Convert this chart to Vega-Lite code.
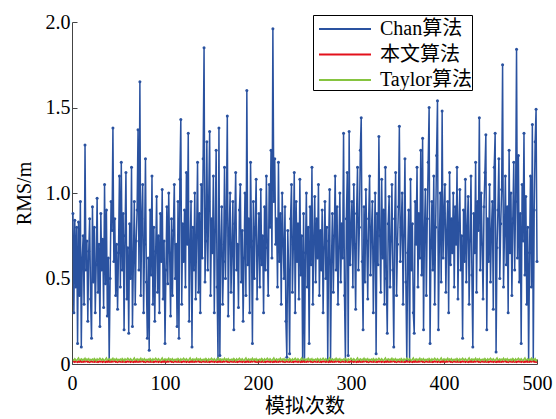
{
"$schema": "https://vega.github.io/schema/vega-lite/v6.json",
"width": 465, "height": 342,
"autosize": "none",
"padding": {"left": 72, "top": 22, "right": 19, "bottom": 55},
"background": "white",
"config": {"view": {"stroke": null}, "font": "Liberation Serif"},
"data": {"values": [
{"i":1,"c":0.88,"r":0.013,"t":0.027},{"i":2,"c":0.30,"r":0.015,"t":0.022},{"i":3,"c":0.84,"r":0.012,"t":0.031},{"i":4,"c":0.45,"r":0.016,"t":0.025},{"i":5,"c":0.80,"r":0.014,"t":0.020},{"i":6,"c":0.12,"r":0.011,"t":0.028},{"i":7,"c":0.83,"r":0.015,"t":0.035},{"i":8,"c":0.40,"r":0.013,"t":0.023},{"i":9,"c":0.95,"r":0.017,"t":0.026},{"i":10,"c":0.10,"r":0.012,"t":0.030},
{"i":11,"c":0.62,"r":0.014,"t":0.021},{"i":12,"c":0.75,"r":0.012,"t":0.028},{"i":13,"c":0.35,"r":0.016,"t":0.025},{"i":14,"c":1.28,"r":0.013,"t":0.033},{"i":15,"c":0.55,"r":0.015,"t":0.022},{"i":16,"c":0.72,"r":0.017,"t":0.029},{"i":17,"c":0.25,"r":0.012,"t":0.024},{"i":18,"c":0.66,"r":0.014,"t":0.031},{"i":19,"c":0.85,"r":0.011,"t":0.019},{"i":20,"c":0.38,"r":0.015,"t":0.027},
{"i":21,"c":0.15,"r":0.016,"t":0.024},{"i":22,"c":0.92,"r":0.013,"t":0.029},{"i":23,"c":0.48,"r":0.014,"t":0.021},{"i":24,"c":0.80,"r":0.012,"t":0.032},{"i":25,"c":0.30,"r":0.017,"t":0.026},{"i":26,"c":0.58,"r":0.013,"t":0.019},{"i":27,"c":0.97,"r":0.015,"t":0.030},{"i":28,"c":0.42,"r":0.011,"t":0.023},{"i":29,"c":0.70,"r":0.014,"t":0.027},{"i":30,"c":0.22,"r":0.016,"t":0.034},
{"i":31,"c":0.88,"r":0.013,"t":0.027},{"i":32,"c":0.55,"r":0.015,"t":0.022},{"i":33,"c":0.73,"r":0.012,"t":0.031},{"i":34,"c":0.33,"r":0.016,"t":0.025},{"i":35,"c":1.05,"r":0.014,"t":0.020},{"i":36,"c":0.47,"r":0.011,"t":0.028},{"i":37,"c":0.90,"r":0.015,"t":0.035},{"i":38,"c":0.28,"r":0.013,"t":0.023},{"i":39,"c":0.62,"r":0.017,"t":0.026},{"i":40,"c":0.02,"r":0.012,"t":0.030},
{"i":41,"c":0.50,"r":0.014,"t":0.021},{"i":42,"c":0.95,"r":0.012,"t":0.028},{"i":43,"c":0.78,"r":0.016,"t":0.025},{"i":44,"c":1.38,"r":0.013,"t":0.033},{"i":45,"c":0.60,"r":0.015,"t":0.022},{"i":46,"c":0.85,"r":0.017,"t":0.029},{"i":47,"c":0.40,"r":0.012,"t":0.024},{"i":48,"c":0.70,"r":0.014,"t":0.031},{"i":49,"c":0.32,"r":0.011,"t":0.019},{"i":50,"c":0.65,"r":0.015,"t":0.027},
{"i":51,"c":1.10,"r":0.016,"t":0.024},{"i":52,"c":0.45,"r":0.013,"t":0.029},{"i":53,"c":1.18,"r":0.014,"t":0.021},{"i":54,"c":0.55,"r":0.012,"t":0.032},{"i":55,"c":0.88,"r":0.017,"t":0.026},{"i":56,"c":0.20,"r":0.013,"t":0.019},{"i":57,"c":0.75,"r":0.015,"t":0.030},{"i":58,"c":1.12,"r":0.011,"t":0.023},{"i":59,"c":0.38,"r":0.014,"t":0.027},{"i":60,"c":0.68,"r":0.016,"t":0.034},
{"i":61,"c":0.18,"r":0.013,"t":0.027},{"i":62,"c":0.82,"r":0.015,"t":0.022},{"i":63,"c":0.50,"r":0.012,"t":0.031},{"i":64,"c":1.15,"r":0.016,"t":0.025},{"i":65,"c":0.22,"r":0.014,"t":0.020},{"i":66,"c":0.60,"r":0.011,"t":0.028},{"i":67,"c":0.95,"r":0.015,"t":0.035},{"i":68,"c":0.35,"r":0.013,"t":0.023},{"i":69,"c":0.72,"r":0.017,"t":0.026},{"i":70,"c":0.90,"r":0.012,"t":0.030},
{"i":71,"c":1.37,"r":0.014,"t":0.021},{"i":72,"c":0.55,"r":0.012,"t":0.028},{"i":73,"c":1.65,"r":0.016,"t":0.025},{"i":74,"c":0.40,"r":0.013,"t":0.033},{"i":75,"c":0.85,"r":0.015,"t":0.022},{"i":76,"c":1.05,"r":0.017,"t":0.029},{"i":77,"c":0.30,"r":0.012,"t":0.024},{"i":78,"c":0.70,"r":0.014,"t":0.031},{"i":79,"c":1.20,"r":0.011,"t":0.019},{"i":80,"c":0.48,"r":0.015,"t":0.027},
{"i":81,"c":0.15,"r":0.016,"t":0.024},{"i":82,"c":0.62,"r":0.013,"t":0.029},{"i":83,"c":0.08,"r":0.014,"t":0.021},{"i":84,"c":0.90,"r":0.012,"t":0.032},{"i":85,"c":0.52,"r":0.017,"t":0.026},{"i":86,"c":1.10,"r":0.013,"t":0.019},{"i":87,"c":0.35,"r":0.015,"t":0.030},{"i":88,"c":0.80,"r":0.011,"t":0.023},{"i":89,"c":0.25,"r":0.014,"t":0.027},{"i":90,"c":0.66,"r":0.016,"t":0.034},
{"i":91,"c":0.98,"r":0.013,"t":0.027},{"i":92,"c":0.42,"r":0.015,"t":0.022},{"i":93,"c":0.75,"r":0.012,"t":0.031},{"i":94,"c":0.30,"r":0.016,"t":0.025},{"i":95,"c":0.88,"r":0.014,"t":0.020},{"i":96,"c":0.60,"r":0.011,"t":0.028},{"i":97,"c":1.02,"r":0.015,"t":0.035},{"i":98,"c":0.38,"r":0.013,"t":0.023},{"i":99,"c":0.72,"r":0.017,"t":0.026},{"i":100,"c":0.12,"r":0.012,"t":0.030},
{"i":101,"c":0.55,"r":0.014,"t":0.021},{"i":102,"c":0.92,"r":0.012,"t":0.028},{"i":103,"c":0.47,"r":0.016,"t":0.025},{"i":104,"c":1.00,"r":0.013,"t":0.033},{"i":105,"c":0.65,"r":0.015,"t":0.022},{"i":106,"c":0.28,"r":0.017,"t":0.029},{"i":107,"c":0.85,"r":0.012,"t":0.024},{"i":108,"c":0.40,"r":0.014,"t":0.031},{"i":109,"c":0.78,"r":0.011,"t":0.019},{"i":110,"c":1.05,"r":0.015,"t":0.027},
{"i":111,"c":0.50,"r":0.016,"t":0.024},{"i":112,"c":0.70,"r":0.013,"t":0.029},{"i":113,"c":0.22,"r":0.014,"t":0.021},{"i":114,"c":0.95,"r":0.012,"t":0.032},{"i":115,"c":0.15,"r":0.017,"t":0.026},{"i":116,"c":1.08,"r":0.013,"t":0.019},{"i":117,"c":1.43,"r":0.015,"t":0.030},{"i":118,"c":0.35,"r":0.011,"t":0.023},{"i":119,"c":0.82,"r":0.014,"t":0.027},{"i":120,"c":0.60,"r":0.016,"t":0.034},
{"i":121,"c":0.90,"r":0.013,"t":0.027},{"i":122,"c":0.45,"r":0.015,"t":0.022},{"i":123,"c":1.12,"r":0.012,"t":0.031},{"i":124,"c":0.70,"r":0.016,"t":0.025},{"i":125,"c":1.35,"r":0.014,"t":0.020},{"i":126,"c":0.25,"r":0.011,"t":0.028},{"i":127,"c":0.68,"r":0.015,"t":0.035},{"i":128,"c":0.95,"r":0.013,"t":0.023},{"i":129,"c":0.10,"r":0.017,"t":0.026},{"i":130,"c":0.80,"r":0.012,"t":0.030},
{"i":131,"c":0.55,"r":0.014,"t":0.021},{"i":132,"c":1.00,"r":0.012,"t":0.028},{"i":133,"c":0.38,"r":0.016,"t":0.025},{"i":134,"c":0.75,"r":0.013,"t":0.033},{"i":135,"c":1.18,"r":0.015,"t":0.022},{"i":136,"c":0.42,"r":0.017,"t":0.029},{"i":137,"c":0.88,"r":0.012,"t":0.024},{"i":138,"c":0.30,"r":0.014,"t":0.031},{"i":139,"c":1.05,"r":0.011,"t":0.019},{"i":140,"c":0.62,"r":0.015,"t":0.027},
{"i":141,"c":1.20,"r":0.016,"t":0.024},{"i":142,"c":1.85,"r":0.013,"t":0.029},{"i":143,"c":0.48,"r":0.014,"t":0.021},{"i":144,"c":0.72,"r":0.012,"t":0.032},{"i":145,"c":1.30,"r":0.017,"t":0.026},{"i":146,"c":0.55,"r":0.013,"t":0.019},{"i":147,"c":0.95,"r":0.015,"t":0.030},{"i":148,"c":1.36,"r":0.011,"t":0.023},{"i":149,"c":0.40,"r":0.014,"t":0.027},{"i":150,"c":0.85,"r":0.016,"t":0.034},
{"i":151,"c":0.65,"r":0.013,"t":0.027},{"i":152,"c":1.10,"r":0.015,"t":0.022},{"i":153,"c":0.30,"r":0.012,"t":0.031},{"i":154,"c":0.78,"r":0.016,"t":0.025},{"i":155,"c":1.25,"r":0.014,"t":0.020},{"i":156,"c":0.45,"r":0.011,"t":0.028},{"i":157,"c":0.03,"r":0.015,"t":0.035},{"i":158,"c":1.38,"r":0.013,"t":0.023},{"i":159,"c":0.05,"r":0.017,"t":0.026},{"i":160,"c":0.70,"r":0.012,"t":0.030},
{"i":161,"c":0.92,"r":0.014,"t":0.021},{"i":162,"c":0.35,"r":0.012,"t":0.028},{"i":163,"c":0.60,"r":0.016,"t":0.025},{"i":164,"c":1.15,"r":0.013,"t":0.033},{"i":165,"c":0.50,"r":0.015,"t":0.022},{"i":166,"c":0.88,"r":0.017,"t":0.029},{"i":167,"c":1.45,"r":0.012,"t":0.024},{"i":168,"c":0.28,"r":0.014,"t":0.031},{"i":169,"c":0.75,"r":0.011,"t":0.019},{"i":170,"c":1.00,"r":0.015,"t":0.027},
{"i":171,"c":0.42,"r":0.016,"t":0.024},{"i":172,"c":0.68,"r":0.013,"t":0.029},{"i":173,"c":0.95,"r":0.014,"t":0.021},{"i":174,"c":0.20,"r":0.012,"t":0.032},{"i":175,"c":0.82,"r":0.017,"t":0.026},{"i":176,"c":1.12,"r":0.013,"t":0.019},{"i":177,"c":0.55,"r":0.015,"t":0.030},{"i":178,"c":0.70,"r":0.011,"t":0.023},{"i":179,"c":0.33,"r":0.014,"t":0.027},{"i":180,"c":0.90,"r":0.016,"t":0.034},
{"i":181,"c":1.05,"r":0.013,"t":0.027},{"i":182,"c":0.48,"r":0.015,"t":0.022},{"i":183,"c":0.78,"r":0.012,"t":0.031},{"i":184,"c":0.25,"r":0.016,"t":0.025},{"i":185,"c":0.62,"r":0.014,"t":0.020},{"i":186,"c":1.00,"r":0.011,"t":0.028},{"i":187,"c":0.40,"r":0.015,"t":0.035},{"i":188,"c":1.60,"r":0.013,"t":0.023},{"i":189,"c":0.58,"r":0.017,"t":0.026},{"i":190,"c":0.85,"r":0.012,"t":0.030},
{"i":191,"c":0.30,"r":0.014,"t":0.021},{"i":192,"c":1.18,"r":0.012,"t":0.028},{"i":193,"c":0.72,"r":0.016,"t":0.025},{"i":194,"c":0.12,"r":0.013,"t":0.033},{"i":195,"c":0.95,"r":0.015,"t":0.022},{"i":196,"c":0.50,"r":0.017,"t":0.029},{"i":197,"c":0.80,"r":0.012,"t":0.024},{"i":198,"c":1.08,"r":0.014,"t":0.031},{"i":199,"c":0.38,"r":0.011,"t":0.019},{"i":200,"c":0.65,"r":0.015,"t":0.027},
{"i":201,"c":0.88,"r":0.016,"t":0.024},{"i":202,"c":0.45,"r":0.013,"t":0.029},{"i":203,"c":1.02,"r":0.014,"t":0.021},{"i":204,"c":0.58,"r":0.012,"t":0.032},{"i":205,"c":0.75,"r":0.017,"t":0.026},{"i":206,"c":0.30,"r":0.013,"t":0.019},{"i":207,"c":0.92,"r":0.015,"t":0.030},{"i":208,"c":0.55,"r":0.011,"t":0.023},{"i":209,"c":1.10,"r":0.014,"t":0.027},{"i":210,"c":0.68,"r":0.016,"t":0.034},
{"i":211,"c":0.40,"r":0.013,"t":0.027},{"i":212,"c":1.05,"r":0.015,"t":0.022},{"i":213,"c":0.80,"r":0.012,"t":0.031},{"i":214,"c":1.25,"r":0.016,"t":0.025},{"i":215,"c":0.62,"r":0.014,"t":0.020},{"i":216,"c":1.96,"r":0.011,"t":0.028},{"i":217,"c":0.95,"r":0.015,"t":0.035},{"i":218,"c":1.20,"r":0.013,"t":0.023},{"i":219,"c":0.70,"r":0.017,"t":0.026},{"i":220,"c":0.85,"r":0.012,"t":0.030},
{"i":221,"c":0.45,"r":0.014,"t":0.021},{"i":222,"c":1.18,"r":0.012,"t":0.028},{"i":223,"c":0.60,"r":0.016,"t":0.025},{"i":224,"c":0.88,"r":0.013,"t":0.033},{"i":225,"c":0.35,"r":0.015,"t":0.022},{"i":226,"c":1.00,"r":0.017,"t":0.029},{"i":227,"c":0.72,"r":0.012,"t":0.024},{"i":228,"c":0.50,"r":0.014,"t":0.031},{"i":229,"c":0.92,"r":0.011,"t":0.019},{"i":230,"c":0.25,"r":0.015,"t":0.027},
{"i":231,"c":0.04,"r":0.016,"t":0.024},{"i":232,"c":0.78,"r":0.013,"t":0.029},{"i":233,"c":0.55,"r":0.014,"t":0.021},{"i":234,"c":0.06,"r":0.012,"t":0.032},{"i":235,"c":0.85,"r":0.017,"t":0.026},{"i":236,"c":1.05,"r":0.013,"t":0.019},{"i":237,"c":0.42,"r":0.015,"t":0.030},{"i":238,"c":0.70,"r":0.011,"t":0.023},{"i":239,"c":1.12,"r":0.014,"t":0.027},{"i":240,"c":0.30,"r":0.016,"t":0.034},
{"i":241,"c":0.95,"r":0.013,"t":0.027},{"i":242,"c":0.60,"r":0.015,"t":0.022},{"i":243,"c":0.82,"r":0.012,"t":0.031},{"i":244,"c":0.38,"r":0.016,"t":0.025},{"i":245,"c":1.08,"r":0.014,"t":0.020},{"i":246,"c":0.52,"r":0.011,"t":0.028},{"i":247,"c":0.75,"r":0.015,"t":0.035},{"i":248,"c":0.02,"r":0.013,"t":0.023},{"i":249,"c":0.88,"r":0.017,"t":0.026},{"i":250,"c":0.02,"r":0.012,"t":0.030},
{"i":251,"c":0.65,"r":0.014,"t":0.021},{"i":252,"c":1.00,"r":0.012,"t":0.028},{"i":253,"c":0.45,"r":0.016,"t":0.025},{"i":254,"c":0.80,"r":0.013,"t":0.033},{"i":255,"c":0.12,"r":0.015,"t":0.022},{"i":256,"c":0.92,"r":0.017,"t":0.029},{"i":257,"c":0.58,"r":0.012,"t":0.024},{"i":258,"c":1.15,"r":0.014,"t":0.031},{"i":259,"c":0.35,"r":0.011,"t":0.019},{"i":260,"c":0.72,"r":0.015,"t":0.027},
{"i":261,"c":0.98,"r":0.016,"t":0.024},{"i":262,"c":0.48,"r":0.013,"t":0.029},{"i":263,"c":0.85,"r":0.014,"t":0.021},{"i":264,"c":0.62,"r":0.012,"t":0.032},{"i":265,"c":1.05,"r":0.017,"t":0.026},{"i":266,"c":0.40,"r":0.013,"t":0.019},{"i":267,"c":0.78,"r":0.015,"t":0.030},{"i":268,"c":0.55,"r":0.011,"t":0.023},{"i":269,"c":0.90,"r":0.014,"t":0.027},{"i":270,"c":0.30,"r":0.016,"t":0.034},
{"i":271,"c":0.68,"r":0.013,"t":0.027},{"i":272,"c":0.95,"r":0.015,"t":0.022},{"i":273,"c":0.50,"r":0.012,"t":0.031},{"i":274,"c":0.80,"r":0.016,"t":0.025},{"i":275,"c":0.02,"r":0.014,"t":0.020},{"i":276,"c":0.72,"r":0.011,"t":0.028},{"i":277,"c":1.02,"r":0.015,"t":0.035},{"i":278,"c":0.02,"r":0.013,"t":0.023},{"i":279,"c":0.60,"r":0.017,"t":0.026},{"i":280,"c":0.88,"r":0.012,"t":0.030},
{"i":281,"c":0.42,"r":0.014,"t":0.021},{"i":282,"c":0.75,"r":0.012,"t":0.028},{"i":283,"c":1.10,"r":0.016,"t":0.025},{"i":284,"c":0.55,"r":0.013,"t":0.033},{"i":285,"c":0.92,"r":0.015,"t":0.022},{"i":286,"c":0.35,"r":0.017,"t":0.029},{"i":287,"c":0.68,"r":0.012,"t":0.024},{"i":288,"c":1.00,"r":0.014,"t":0.031},{"i":289,"c":0.48,"r":0.011,"t":0.019},{"i":290,"c":0.82,"r":0.015,"t":0.027},
{"i":291,"c":0.62,"r":0.016,"t":0.024},{"i":292,"c":1.35,"r":0.013,"t":0.029},{"i":293,"c":0.40,"r":0.014,"t":0.021},{"i":294,"c":0.02,"r":0.012,"t":0.032},{"i":295,"c":0.85,"r":0.017,"t":0.026},{"i":296,"c":1.12,"r":0.013,"t":0.019},{"i":297,"c":0.05,"r":0.015,"t":0.030},{"i":298,"c":1.36,"r":0.011,"t":0.023},{"i":299,"c":0.58,"r":0.014,"t":0.027},{"i":300,"c":0.78,"r":0.016,"t":0.034},
{"i":301,"c":0.95,"r":0.013,"t":0.027},{"i":302,"c":0.45,"r":0.015,"t":0.022},{"i":303,"c":1.05,"r":0.012,"t":0.031},{"i":304,"c":0.70,"r":0.016,"t":0.025},{"i":305,"c":0.32,"r":0.014,"t":0.020},{"i":306,"c":0.88,"r":0.011,"t":0.028},{"i":307,"c":1.15,"r":0.015,"t":0.035},{"i":308,"c":0.55,"r":0.013,"t":0.023},{"i":309,"c":0.80,"r":0.017,"t":0.026},{"i":310,"c":1.25,"r":0.012,"t":0.030},
{"i":311,"c":1.44,"r":0.014,"t":0.021},{"i":312,"c":0.60,"r":0.012,"t":0.028},{"i":313,"c":0.20,"r":0.016,"t":0.025},{"i":314,"c":0.92,"r":0.013,"t":0.033},{"i":315,"c":0.48,"r":0.015,"t":0.022},{"i":316,"c":1.02,"r":0.017,"t":0.029},{"i":317,"c":0.72,"r":0.012,"t":0.024},{"i":318,"c":0.38,"r":0.014,"t":0.031},{"i":319,"c":0.85,"r":0.011,"t":0.019},{"i":320,"c":1.10,"r":0.015,"t":0.027},
{"i":321,"c":0.52,"r":0.016,"t":0.024},{"i":322,"c":0.78,"r":0.013,"t":0.029},{"i":323,"c":0.95,"r":0.014,"t":0.021},{"i":324,"c":0.30,"r":0.012,"t":0.032},{"i":325,"c":0.68,"r":0.017,"t":0.026},{"i":326,"c":1.00,"r":0.013,"t":0.019},{"i":327,"c":0.06,"r":0.015,"t":0.030},{"i":328,"c":0.88,"r":0.011,"t":0.023},{"i":329,"c":0.58,"r":0.014,"t":0.027},{"i":330,"c":1.33,"r":0.016,"t":0.034},
{"i":331,"c":0.75,"r":0.013,"t":0.027},{"i":332,"c":0.42,"r":0.015,"t":0.022},{"i":333,"c":1.08,"r":0.012,"t":0.031},{"i":334,"c":0.62,"r":0.016,"t":0.025},{"i":335,"c":0.90,"r":0.014,"t":0.020},{"i":336,"c":0.35,"r":0.011,"t":0.028},{"i":337,"c":1.15,"r":0.015,"t":0.035},{"i":338,"c":0.50,"r":0.013,"t":0.023},{"i":339,"c":0.18,"r":0.017,"t":0.026},{"i":340,"c":0.82,"r":0.012,"t":0.030},
{"i":341,"c":0.98,"r":0.014,"t":0.021},{"i":342,"c":0.45,"r":0.012,"t":0.028},{"i":343,"c":0.72,"r":0.016,"t":0.025},{"i":344,"c":1.05,"r":0.013,"t":0.033},{"i":345,"c":0.55,"r":0.015,"t":0.022},{"i":346,"c":0.10,"r":0.017,"t":0.029},{"i":347,"c":0.85,"r":0.012,"t":0.024},{"i":348,"c":1.12,"r":0.014,"t":0.031},{"i":349,"c":0.40,"r":0.011,"t":0.019},{"i":350,"c":0.70,"r":0.015,"t":0.027},
{"i":351,"c":0.92,"r":0.016,"t":0.024},{"i":352,"c":1.39,"r":0.013,"t":0.029},{"i":353,"c":0.60,"r":0.014,"t":0.021},{"i":354,"c":0.80,"r":0.012,"t":0.032},{"i":355,"c":1.00,"r":0.017,"t":0.026},{"i":356,"c":0.35,"r":0.013,"t":0.019},{"i":357,"c":0.75,"r":0.015,"t":0.030},{"i":358,"c":1.20,"r":0.011,"t":0.023},{"i":359,"c":0.48,"r":0.014,"t":0.027},{"i":360,"c":0.02,"r":0.016,"t":0.034},
{"i":361,"c":0.65,"r":0.013,"t":0.027},{"i":362,"c":0.90,"r":0.015,"t":0.022},{"i":363,"c":0.02,"r":0.012,"t":0.031},{"i":364,"c":1.08,"r":0.016,"t":0.025},{"i":365,"c":0.55,"r":0.014,"t":0.020},{"i":366,"c":0.82,"r":0.011,"t":0.028},{"i":367,"c":0.30,"r":0.015,"t":0.035},{"i":368,"c":0.18,"r":0.013,"t":0.023},{"i":369,"c":0.95,"r":0.017,"t":0.026},{"i":370,"c":0.70,"r":0.012,"t":0.030},
{"i":371,"c":1.15,"r":0.014,"t":0.021},{"i":372,"c":0.45,"r":0.012,"t":0.028},{"i":373,"c":0.88,"r":0.016,"t":0.025},{"i":374,"c":0.62,"r":0.013,"t":0.033},{"i":375,"c":1.25,"r":0.015,"t":0.022},{"i":376,"c":0.52,"r":0.017,"t":0.029},{"i":377,"c":1.32,"r":0.012,"t":0.024},{"i":378,"c":0.20,"r":0.014,"t":0.031},{"i":379,"c":0.78,"r":0.011,"t":0.019},{"i":380,"c":1.02,"r":0.015,"t":0.027},
{"i":381,"c":0.40,"r":0.016,"t":0.024},{"i":382,"c":0.85,"r":0.013,"t":0.029},{"i":383,"c":1.18,"r":0.014,"t":0.021},{"i":384,"c":1.50,"r":0.012,"t":0.032},{"i":385,"c":0.12,"r":0.017,"t":0.026},{"i":386,"c":0.68,"r":0.013,"t":0.019},{"i":387,"c":0.95,"r":0.015,"t":0.030},{"i":388,"c":0.55,"r":0.011,"t":0.023},{"i":389,"c":1.10,"r":0.014,"t":0.027},{"i":390,"c":0.35,"r":0.016,"t":0.034},
{"i":391,"c":0.80,"r":0.013,"t":0.027},{"i":392,"c":1.22,"r":0.015,"t":0.022},{"i":393,"c":1.54,"r":0.012,"t":0.031},{"i":394,"c":0.20,"r":0.016,"t":0.025},{"i":395,"c":0.72,"r":0.014,"t":0.020},{"i":396,"c":1.00,"r":0.011,"t":0.028},{"i":397,"c":0.48,"r":0.015,"t":0.035},{"i":398,"c":1.48,"r":0.013,"t":0.023},{"i":399,"c":0.62,"r":0.017,"t":0.026},{"i":400,"c":0.88,"r":0.012,"t":0.030},
{"i":401,"c":1.05,"r":0.014,"t":0.021},{"i":402,"c":0.42,"r":0.012,"t":0.028},{"i":403,"c":0.78,"r":0.016,"t":0.025},{"i":404,"c":0.95,"r":0.013,"t":0.033},{"i":405,"c":0.30,"r":0.015,"t":0.022},{"i":406,"c":1.12,"r":0.017,"t":0.029},{"i":407,"c":0.58,"r":0.012,"t":0.024},{"i":408,"c":0.85,"r":0.014,"t":0.031},{"i":409,"c":0.65,"r":0.011,"t":0.019},{"i":410,"c":1.00,"r":0.015,"t":0.027},
{"i":411,"c":0.45,"r":0.016,"t":0.024},{"i":412,"c":0.92,"r":0.013,"t":0.029},{"i":413,"c":0.70,"r":0.014,"t":0.021},{"i":414,"c":1.15,"r":0.012,"t":0.032},{"i":415,"c":0.38,"r":0.017,"t":0.026},{"i":416,"c":0.82,"r":0.013,"t":0.019},{"i":417,"c":1.02,"r":0.015,"t":0.030},{"i":418,"c":0.55,"r":0.011,"t":0.023},{"i":419,"c":0.75,"r":0.014,"t":0.027},{"i":420,"c":0.15,"r":0.016,"t":0.034},
{"i":421,"c":0.90,"r":0.013,"t":0.027},{"i":422,"c":0.60,"r":0.015,"t":0.022},{"i":423,"c":1.08,"r":0.012,"t":0.031},{"i":424,"c":0.48,"r":0.016,"t":0.025},{"i":425,"c":0.80,"r":0.014,"t":0.020},{"i":426,"c":0.98,"r":0.011,"t":0.028},{"i":427,"c":0.35,"r":0.015,"t":0.035},{"i":428,"c":0.72,"r":0.013,"t":0.023},{"i":429,"c":1.10,"r":0.017,"t":0.026},{"i":430,"c":0.52,"r":0.012,"t":0.030},
{"i":431,"c":0.10,"r":0.014,"t":0.021},{"i":432,"c":0.88,"r":0.012,"t":0.028},{"i":433,"c":0.65,"r":0.016,"t":0.025},{"i":434,"c":1.18,"r":0.013,"t":0.033},{"i":435,"c":0.42,"r":0.015,"t":0.022},{"i":436,"c":0.95,"r":0.017,"t":0.029},{"i":437,"c":0.78,"r":0.012,"t":0.024},{"i":438,"c":1.44,"r":0.014,"t":0.031},{"i":439,"c":0.55,"r":0.011,"t":0.019},{"i":440,"c":1.00,"r":0.015,"t":0.027},
{"i":441,"c":0.70,"r":0.016,"t":0.024},{"i":442,"c":0.38,"r":0.013,"t":0.029},{"i":443,"c":0.92,"r":0.014,"t":0.021},{"i":444,"c":1.12,"r":0.012,"t":0.032},{"i":445,"c":1.34,"r":0.017,"t":0.026},{"i":446,"c":0.20,"r":0.013,"t":0.019},{"i":447,"c":0.85,"r":0.015,"t":0.030},{"i":448,"c":0.60,"r":0.011,"t":0.023},{"i":449,"c":1.05,"r":0.014,"t":0.027},{"i":450,"c":0.48,"r":0.016,"t":0.034},
{"i":451,"c":0.78,"r":0.013,"t":0.027},{"i":452,"c":0.95,"r":0.015,"t":0.022},{"i":453,"c":0.32,"r":0.012,"t":0.031},{"i":454,"c":1.15,"r":0.016,"t":0.025},{"i":455,"c":1.35,"r":0.014,"t":0.020},{"i":456,"c":0.07,"r":0.011,"t":0.028},{"i":457,"c":0.68,"r":0.015,"t":0.035},{"i":458,"c":0.90,"r":0.013,"t":0.023},{"i":459,"c":1.20,"r":0.017,"t":0.026},{"i":460,"c":0.50,"r":0.012,"t":0.030},
{"i":461,"c":0.82,"r":0.014,"t":0.021},{"i":462,"c":1.02,"r":0.012,"t":0.028},{"i":463,"c":1.75,"r":0.016,"t":0.025},{"i":464,"c":0.45,"r":0.013,"t":0.033},{"i":465,"c":0.75,"r":0.015,"t":0.022},{"i":466,"c":1.10,"r":0.017,"t":0.029},{"i":467,"c":0.58,"r":0.012,"t":0.024},{"i":468,"c":0.92,"r":0.014,"t":0.031},{"i":469,"c":0.30,"r":0.011,"t":0.019},{"i":470,"c":1.25,"r":0.015,"t":0.027},
{"i":471,"c":0.65,"r":0.016,"t":0.024},{"i":472,"c":1.00,"r":0.013,"t":0.029},{"i":473,"c":0.40,"r":0.014,"t":0.021},{"i":474,"c":0.85,"r":0.012,"t":0.032},{"i":475,"c":1.18,"r":0.017,"t":0.026},{"i":476,"c":0.55,"r":0.013,"t":0.019},{"i":477,"c":0.95,"r":0.015,"t":0.030},{"i":478,"c":1.84,"r":0.011,"t":0.023},{"i":479,"c":0.62,"r":0.014,"t":0.027},{"i":480,"c":1.22,"r":0.016,"t":0.034},
{"i":481,"c":0.48,"r":0.013,"t":0.027},{"i":482,"c":0.88,"r":0.015,"t":0.022},{"i":483,"c":0.12,"r":0.012,"t":0.031},{"i":484,"c":1.05,"r":0.016,"t":0.025},{"i":485,"c":0.72,"r":0.014,"t":0.020},{"i":486,"c":1.35,"r":0.011,"t":0.028},{"i":487,"c":0.52,"r":0.015,"t":0.035},{"i":488,"c":0.98,"r":0.013,"t":0.023},{"i":489,"c":0.35,"r":0.017,"t":0.026},{"i":490,"c":0.80,"r":0.012,"t":0.030},
{"i":491,"c":0.02,"r":0.014,"t":0.021},{"i":492,"c":0.65,"r":0.012,"t":0.028},{"i":493,"c":1.10,"r":0.016,"t":0.025},{"i":494,"c":0.45,"r":0.013,"t":0.033},{"i":495,"c":1.40,"r":0.015,"t":0.022},{"i":496,"c":0.02,"r":0.017,"t":0.029},{"i":497,"c":0.90,"r":0.012,"t":0.024},{"i":498,"c":1.30,"r":0.014,"t":0.031},{"i":499,"c":1.49,"r":0.011,"t":0.019},{"i":500,"c":0.60,"r":0.015,"t":0.027}
]},
"encoding": {
  "x": {"field": "i", "type": "quantitative",
        "scale": {"domain": [0, 500], "nice": false, "zero": false},
        "axis": {"values": [0, 100, 200, 300, 400, 500], "title": "模拟次数",
                 "titleFont": "Liberation Serif, Noto Sans CJK SC", "titleFontSize": 20, "titleFontWeight": "normal", "titleColor": "black", "titlePadding": 3,
                 "labelFont": "Liberation Serif", "labelFontSize": 20, "labelColor": "black", "labelPadding": 14, "labelFlush": false,
                 "tickSize": -5, "tickColor": "#444", "domainColor": "#444", "grid": false}}
},
"layer": [
  {"mark": {"type": "line", "strokeWidth": 1.5, "point": {"filled": true, "size": 9}},
   "encoding": {
     "y": {"field": "c", "type": "quantitative", "title": "RMS/m",
           "scale": {"domain": [0, 2], "nice": false},
           "axis": {"values": [0, 0.5, 1, 1.5, 2], "labelExpr": "datum.value == 0 ? '0' : format(datum.value, '.1f')",
                    "titleFont": "Liberation Serif", "titleFontSize": 20, "titleFontWeight": "normal", "titleColor": "black", "titlePadding": 11,
                    "labelFont": "Liberation Serif", "labelFontSize": 20, "labelColor": "black", "labelPadding": 7, "labelFlush": false,
                    "tickSize": -5, "tickColor": "#444", "domainColor": "#444", "grid": false}},
     "color": {"datum": "Chan算法", "type": "nominal",
               "scale": {"domain": ["Chan算法", "本文算法", "Taylor算法"], "range": ["#2a52a0", "#e3101b", "#86c440"]},
               "legend": {"orient": "none", "legendX": 241, "legendY": -7, "title": null,
                          "symbolType": "M-2,0H2", "symbolSize": 676, "symbolStrokeWidth": 2, "symbolOffset": 18,
                          "labelFont": "Liberation Serif, Noto Sans CJK SC", "labelFontSize": 20, "labelColor": "black",
                          "labelOffset": 21, "labelLimit": 300, "rowPadding": 1.5, "padding": 0,
                          "strokeColor": "black", "fillColor": "white", "cornerRadius": 0}}
   }},
  {"mark": {"type": "line", "strokeWidth": 2},
   "encoding": {
     "y": {"field": "r", "type": "quantitative", "title": "RMS/m"},
     "color": {"datum": "本文算法", "type": "nominal"}
   }},
  {"mark": {"type": "line", "strokeWidth": 1.5},
   "encoding": {
     "y": {"field": "t", "type": "quantitative", "title": "RMS/m"},
     "color": {"datum": "Taylor算法", "type": "nominal"}
   }}
]
}
